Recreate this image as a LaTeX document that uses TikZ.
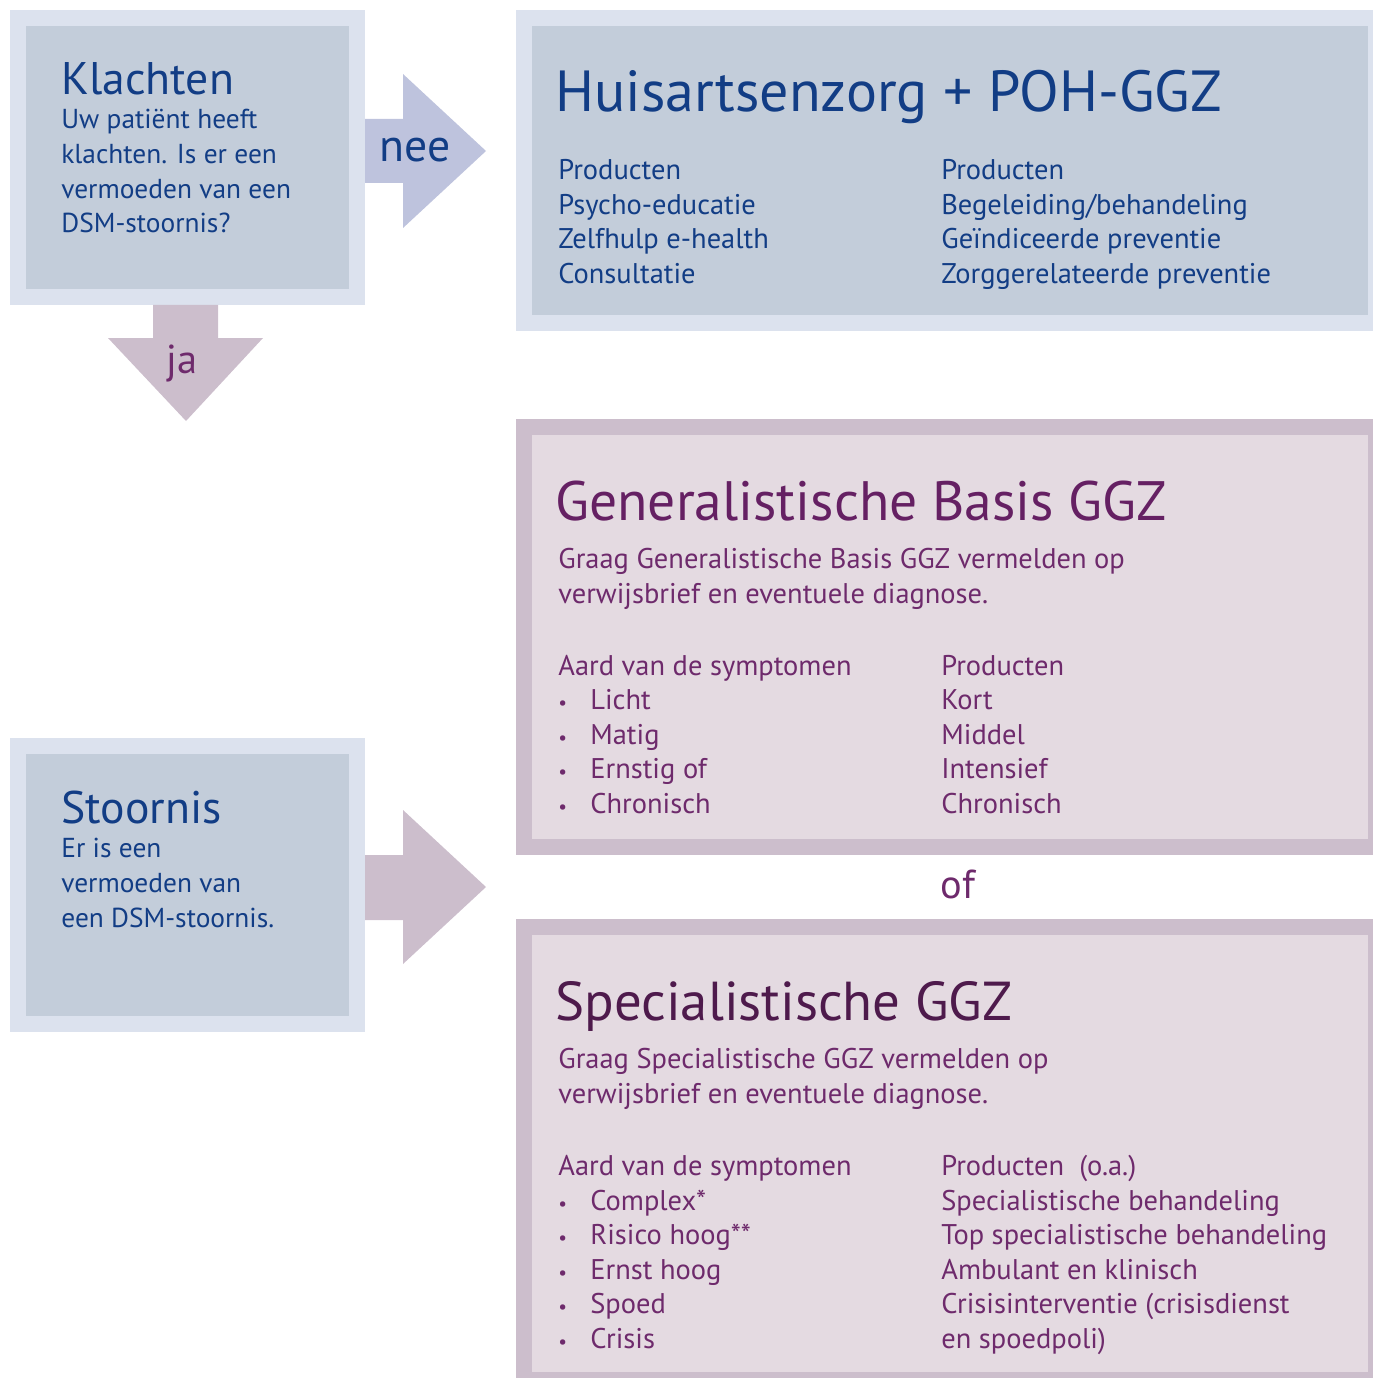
\documentclass[tikz,border=0pt]{standalone}
\usepackage{fontspec}
\setmainfont{PT Sans}
\definecolor{blueframe}{HTML}{DCE2EE}
\definecolor{bluebg}{HTML}{C3CDDA}
\definecolor{bluetext}{HTML}{123D85}
\definecolor{neearrow}{HTML}{BEC3DD}
\definecolor{purpleframe}{HTML}{CCBECC}
\definecolor{purplebg}{HTML}{E4DAE1}
\definecolor{purpletext}{HTML}{6E2A6C}
\definecolor{purpletitle}{HTML}{652063}
\definecolor{darkpurple}{HTML}{4E1A4C}
\tikzset{
  txt/.style={anchor=base west,inner sep=0pt,font=\fontsize{15.6}{18}\selectfont},
  rtxt/.style={anchor=base west,inner sep=0pt,font=\fontsize{16.2}{18}\selectfont},
  dot/.style={anchor=base west,inner sep=0pt,font=\fontsize{11}{12}\selectfont},
  head/.style={anchor=base west,inner sep=0pt,font=\fontsize{26}{30}\selectfont},
  title/.style={anchor=base west,inner sep=0pt,font=\fontsize{32}{36}\selectfont},
}

\begin{document}
\begin{tikzpicture}[x=0.02cm,y=-0.02cm]
\useasboundingbox (0,0) rectangle (1373,1378);
% boxes
\fill[blueframe] (10,10) rectangle (365,305);
\fill[bluebg] (26,26) rectangle (349,289);
\fill[blueframe] (10,738) rectangle (365,1032);
\fill[bluebg] (26,754) rectangle (349,1016);
\fill[blueframe] (516,10) rectangle (1373,331);
\fill[bluebg] (532,26) rectangle (1368,315);
\fill[purpleframe] (516,419) rectangle (1373,855);
\fill[purplebg] (532,435) rectangle (1368,839);
\fill[purpleframe] (516,919) rectangle (1373,1378);
\fill[purplebg] (532,935) rectangle (1368,1372);
% arrows
\fill[neearrow] (365,119) -- (403,119) -- (403,74) -- (486,151) -- (403,228) -- (403,183) -- (365,183) -- cycle;
\fill[purpleframe] (153,305) -- (218,305) -- (218,338) -- (263,338) -- (186,421) -- (108,338) -- (153,338) -- cycle;
\fill[purpleframe] (365,855) -- (403,855) -- (403,810) -- (486,887) -- (403,964) -- (403,920) -- (365,920) -- cycle;
\node[anchor=base,inner sep=0pt,font=\fontsize{26}{30}\selectfont,bluetext] (nee) at (415,162) {nee};
\node[anchor=base,inner sep=0pt,font=\fontsize{23}{26}\selectfont,purpletext] (ja) at (182,373) {ja};
\node[anchor=base,inner sep=0pt,font=\fontsize{23}{26}\selectfont,purpletext] (of) at (958,898) {of};

% Klachten
\node[head,bluetext] (klachten) at (61,95) {Klachten};
\node[txt,bluetext] (k1) at (61,129) {Uw patiënt heeft};
\node[txt,bluetext] (k2) at (61,164) {klachten. Is er een};
\node[txt,bluetext] (k3) at (61,199) {vermoeden van een};
\node[txt,bluetext] (k4) at (61,233) {DSM-stoornis?};

% Stoornis
\node[head,bluetext] (stoornis) at (61,823) {Stoornis};
\node[txt,bluetext] (s1) at (61,857) {Er is een};
\node[txt,bluetext] (s2) at (61,892) {vermoeden van};
\node[txt,bluetext] (s3) at (61,927) {een DSM-stoornis.};

% Huisartsenzorg
\node[title,bluetext,font=\fontsize{33}{36}\selectfont] (huisarts) at (555,112) {Huisartsenzorg + POH-GGZ};
\node[rtxt,bluetext] (h1) at (558,180) {Producten};
\node[rtxt,bluetext] (h2) at (558,214.5) {Psycho-educatie};
\node[rtxt,bluetext] (h3) at (558,249) {Zelfhulp e-health};
\node[rtxt,bluetext] (h4) at (558,283.5) {Consultatie};
\node[rtxt,bluetext] (p1) at (941,180) {Producten};
\node[rtxt,bluetext] (p2) at (941,214.5) {Begeleiding/behandeling};
\node[rtxt,bluetext] (p3) at (941,249) {Geïndiceerde preventie};
\node[rtxt,bluetext] (p4) at (941,283.5) {Zorggerelateerde preventie};

% Generalistische Basis GGZ
\node[title,purpletitle,font=\fontsize{31.6}{36}\selectfont] (gb) at (555,520) {Generalistische Basis GGZ};
\node[rtxt,purpletext] (gb1) at (558,568) {Graag Generalistische Basis GGZ vermelden op};
\node[rtxt,purpletext] (gb2) at (558,603) {verwijsbrief en eventuele diagnose.};
\node[rtxt,purpletext] (gba) at (558,675) {Aard van de symptomen};
\node[rtxt,purpletext] (gbp) at (941,675) {Producten};
\foreach \y/\sym/\prod [count=\i] in {709/Licht/Kort, 744/Matig/Middel, 778/Ernstig of/Intensief, 813/Chronisch/Chronisch}{
  \node[dot,purpletext] (gbb\i) at (558,\y) {•};
  \node[rtxt,purpletext] (gbs\i) at (590,\y) {\sym};
  \node[rtxt,purpletext] (gbq\i) at (941,\y) {\prod};
}

% Specialistische GGZ
\node[title,darkpurple,font=\fontsize{31.2}{36}\selectfont] (sp) at (555,1020) {Specialistische GGZ};
\node[rtxt,purpletext] (sp1) at (558,1068) {Graag Specialistische GGZ vermelden op};
\node[rtxt,purpletext] (sp2) at (558,1103) {verwijsbrief en eventuele diagnose.};
\node[rtxt,purpletext] (spa) at (558,1175) {Aard van de symptomen};
\node[rtxt,purpletext] (spp) at (941,1175) {Producten\ \ (o.a.)};
\foreach \y/\sym/\prod [count=\i] in {1210/Complex*/Specialistische behandeling, 1244/Risico hoog**/Top specialistische behandeling, 1279/Ernst hoog/Ambulant en klinisch, 1313/Spoed/Crisisinterventie (crisisdienst, 1348/Crisis/en spoedpoli)}{
  \node[dot,purpletext] (spb\i) at (558,\y) {•};
  \node[rtxt,purpletext] (sps\i) at (590,\y) {\sym};
  \node[rtxt,purpletext] (spq\i) at (941,\y) {\prod};
}
\end{tikzpicture}
\end{document}
